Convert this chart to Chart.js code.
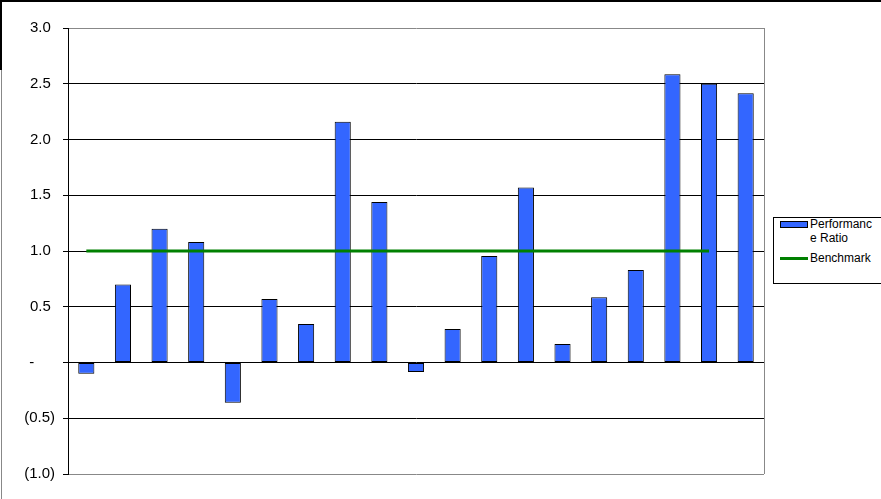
<!DOCTYPE html>
<html>
<head>
<meta charset="utf-8">
<script src="https://cdn.jsdelivr.net/npm/chart.js@4/dist/chart.umd.min.js"></script>
<style>
  html, body { margin: 0; padding: 0; background: #fff; }
  #wrap { position: relative; width: 881px; height: 499px; overflow: hidden; }
  #c { position: absolute; left: 0; top: 0; }
  #topline { position: absolute; left: 0; top: 0; width: 881px; height: 2px; background: #000; }
  #leftline1 { position: absolute; left: 0; top: 0; width: 2px; height: 70px; background: #000; }
  #leftline2 { position: absolute; left: 1px; top: 70px; width: 1px; height: 429px; background: #888; }
  #legend { position: absolute; left: 773px; top: 217px; width: 120px; height: 67px; border: 1px solid #000; box-sizing: border-box; background: #fff;
            font-family: "Liberation Sans", Arial, sans-serif; font-size: 12px; color: #000; }
  .lt { position: absolute; left: 36px; line-height: 14px; white-space: nowrap; }
  #sw1 { position: absolute; left: 6px; top: 3px; width: 28px; height: 7px; background: #3366FF; border: 1px solid #000; box-sizing: border-box; }
  #sw2 { position: absolute; left: 6px; top: 39px; width: 28px; height: 3px; background: #008000; }
</style>
</head>
<body>
<div id="wrap">
  <canvas id="c" width="881" height="499"></canvas>
  <div id="topline"></div>
  <div id="leftline1"></div>
  <div id="leftline2"></div>
  <div id="legend">
    <div id="sw1"></div>
    <div class="lt" style="top:-1px">Performanc</div>
    <div class="lt" style="top:13px">e Ratio</div>
    <div id="sw2"></div>
    <div class="lt" style="top:33px">Benchmark</div>
  </div>
</div>
<script>
const categories = ['1','2','3','4','5','6','7','8','9','10','11','12','13','14','15','16','17','18','19'];
const performanceRatio = [-0.10, 0.70, 1.20, 1.08, -0.36, 0.57, 0.345, 2.16, 1.44, -0.085, 0.30, 0.955, 1.57, 0.165, 0.585, 0.83, 2.585, 2.50, 2.415];
const benchmark = [1, 1, 1, 1, 1, 1, 1, 1, 1, 1, 1, 1, 1, 1, 1, 1, 1, 1, null];
const seriesNames = ['Performance Ratio', 'Benchmark'];
const yMin = -1, yMax = 3, yStep = 0.5;

function fmtTick(v) {
  if (Math.abs(v) < 1e-9) return '-     ';
  if (v < 0) return '(' + Math.abs(v).toFixed(1) + ')';
  return v.toFixed(1) + ' ';
}

const rightBorder = {
  id: 'rightBorder',
  afterDraw(chart) {
    const a = chart.chartArea, ctx = chart.ctx;
    ctx.save();
    ctx.strokeStyle = '#888';
    ctx.lineWidth = 1;
    ctx.beginPath();
    ctx.moveTo(Math.round(a.right) + 0.5, a.top);
    ctx.lineTo(Math.round(a.right) + 0.5, a.bottom);
    ctx.stroke();
    ctx.restore();
  }
};

new Chart(document.getElementById('c'), {
  type: 'bar',
  data: {
    labels: categories,
    datasets: [
      {
        type: 'line',
        label: seriesNames[1],
        data: benchmark,
        borderColor: '#008000',
        borderWidth: 3,
        pointRadius: 0,
        fill: false,
        spanGaps: false,
        order: 0
      },
      {
        type: 'bar',
        label: seriesNames[0],
        data: performanceRatio,
        backgroundColor: '#3366FF',
        borderColor: '#000',
        borderWidth: 1,
        borderSkipped: false,
        categoryPercentage: 1,
        barPercentage: 0.44,
        order: 1
      }
    ]
  },
  options: {
    responsive: false,
    animation: false,
    devicePixelRatio: 1,
    layout: { padding: { left: 0, top: 28, right: 117, bottom: 25 } },
    plugins: { legend: { display: false }, tooltip: { enabled: false } },
    scales: {
      x: { display: false, offset: true },
      y: {
        min: yMin, max: yMax,
        afterFit(scale) { scale.width = 68; },
        ticks: {
          stepSize: yStep,
          color: '#000',
          padding: 8,
          font: { family: '"Liberation Sans", Arial, sans-serif', size: 15 },
          callback: (v) => fmtTick(v)
        },
        grid: {
          color: (ctx) => {
            const v = ctx.tick ? ctx.tick.value : 0;
            return (v === yMax || v === yMin) ? '#888' : '#000';
          },
          tickColor: '#000',
          tickLength: 5,
          lineWidth: 1
        },
        border: { color: '#000', width: 1 }
      }
    }
  },
  plugins: [rightBorder]
});
</script>
</body>
</html>
